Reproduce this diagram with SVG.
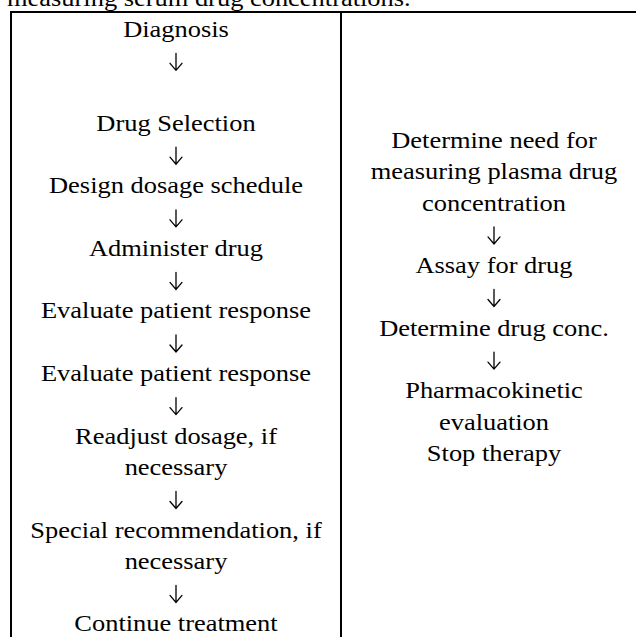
<svg xmlns="http://www.w3.org/2000/svg" width="636" height="637" viewBox="0 0 636 637">
  <style>
    text { font-family: "Liberation Serif", "Times New Roman", serif; font-size: 23px; fill: #000; text-anchor: middle; }
    .caption { text-anchor: start; }
    .rule { stroke: #000; stroke-width: 2; fill: none; }
    .arrow { stroke: #000; stroke-width: 1.3; fill: none; stroke-linecap: round; stroke-linejoin: miter; }
  </style>
  <defs>
    <path id="down" class="arrow" d="M0,-15 V2 M-6,-5 L0,2 L6,-5"/>
  </defs>
  <rect x="0" y="0" width="636" height="637" fill="#fff"/>
  <text class="caption" transform="translate(7,6) scale(1.15,1)">measuring serum drug concentrations.</text>
  <g id="table">
    <line class="rule" x1="10" y1="12" x2="636" y2="12"/>
    <line class="rule" x1="11" y1="11" x2="11" y2="637"/>
    <line class="rule" x1="341" y1="11" x2="341" y2="637"/>
  </g>
  <g id="left-column" transform="translate(176,0) scale(1.15,1)">
    <g id="diagnosis"><text y="37">Diagnosis</text></g>
    <g id="drug-selection"><text y="131">Drug Selection</text></g>
    <g id="design-dosage"><text y="193.5">Design dosage schedule</text></g>
    <g id="administer"><text y="256">Administer drug</text></g>
    <g id="evaluate-1"><text y="318.5">Evaluate patient response</text></g>
    <g id="evaluate-2"><text y="381">Evaluate patient response</text></g>
    <g id="readjust"><text y="444">Readjust dosage, if</text><text y="475">necessary</text></g>
    <g id="special"><text y="538">Special recommendation, if</text><text y="569">necessary</text></g>
    <g id="continue"><text y="631.5">Continue treatment</text></g>
  </g>
  <g id="right-column" transform="translate(494,0) scale(1.15,1)">
    <g id="determine-need"><text y="148">Determine need for</text><text y="179.3">measuring plasma drug</text><text y="210.6">concentration</text></g>
    <g id="assay"><text y="273.2">Assay for drug</text></g>
    <g id="determine-conc"><text y="335.8">Determine drug conc.</text></g>
    <g id="pk-evaluation"><text y="398.4">Pharmacokinetic</text><text y="429.7">evaluation</text><text y="461">Stop therapy</text></g>
  </g>
  <g id="connectors">
    <use href="#down" x="176" y="68.3"/>
    <use href="#down" x="176" y="162.2"/>
    <use href="#down" x="176" y="224.8"/>
    <use href="#down" x="176" y="287.4"/>
    <use href="#down" x="176" y="350"/>
    <use href="#down" x="176" y="412.6"/>
    <use href="#down" x="176" y="506.5"/>
    <use href="#down" x="176" y="600.4"/>
    <use href="#down" x="494" y="241.9"/>
    <use href="#down" x="494" y="304.5"/>
    <use href="#down" x="494" y="367.1"/>
  </g>
</svg>
